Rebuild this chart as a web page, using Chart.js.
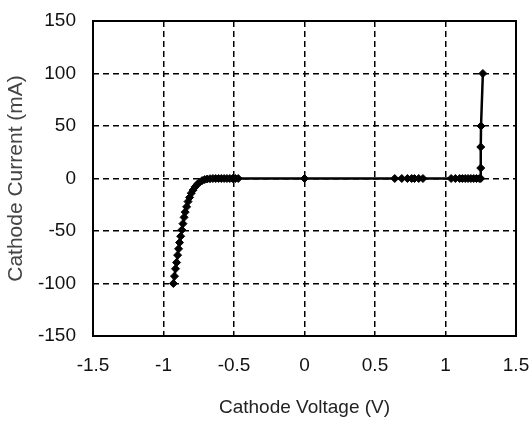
<!DOCTYPE html>
<html>
<head>
<meta charset="utf-8">
<script src="https://cdn.jsdelivr.net/npm/chart.js@4/dist/chart.umd.min.js"></script>
<style>
  html, body { margin: 0; padding: 0; background: #fff; }
  #wrap { width: 532px; height: 421px; }
</style>
</head>
<body>
<div id="wrap"><canvas id="myChart" width="532" height="421"></canvas></div>
<script>
// cathode voltage (V) and current (mA)
const voltage = [-0.93, -0.922, -0.915, -0.907, -0.9, -0.893, -0.886, -0.878, -0.87, -0.862,
    -0.854, -0.846, -0.836, -0.826, -0.815, -0.803, -0.79, -0.776, -0.76, -0.744,
    -0.726, -0.708, -0.69, -0.67, -0.65, -0.63, -0.61, -0.59, -0.57, -0.55,
    -0.53, -0.51, -0.49, -0.47, 0, 0.64, 0.69, 0.73, 0.76, 0.78,
    0.81, 0.84, 1.04, 1.07, 1.1, 1.12, 1.14, 1.16, 1.18, 1.2,
    1.22, 1.24, 1.25, 1.25, 1.25, 1.252, 1.265];
const current = [-100, -93, -86, -80, -73, -67, -61, -55, -49, -43,
    -37, -32, -27, -22, -18, -14, -11, -8, -5.5, -3.5,
    -2, -1, -0.5, -0.2, 0, 0, 0, 0, 0, 0,
    0, 0, 0, 0, 0, 0, 0, 0, 0, 0,
    0, 0, 0, 0, 0, 0, 0, 0, 0, 0,
    0, 0, 0, 10, 30, 50, 100];
const xTicks = [-1.5, -1, -0.5, 0, 0.5, 1, 1.5];
const yTicks = [-150, -100, -50, 0, 50, 100, 150];

const points = voltage.map((v, i) => ({ x: v, y: current[i] }));

const frame = {
    id: 'frame',
    afterDraw(chart) {
        const { ctx, chartArea: a } = chart;
        ctx.save();
        ctx.strokeStyle = '#000';
        ctx.lineWidth = 2;
        ctx.strokeRect(a.left, a.top, a.right - a.left, a.bottom - a.top);
        ctx.restore();
    }
};

const fontTick = { family: 'Liberation Sans, Arial, sans-serif', size: 19 };

const ctx = document.getElementById('myChart').getContext('2d');
const myChart = new Chart(ctx, {
    type: 'scatter',
    data: {
        datasets: [{
            data: points,
            showLine: true,
            borderColor: '#000',
            borderWidth: 2.5,
            backgroundColor: '#000',
            pointStyle: 'rectRot',
            pointRadius: 4,
            pointBorderWidth: 1
        }]
    },
    options: {
        responsive: false,
        animation: false,
        layout: { padding: { top: 21, right: 16, left: 0, bottom: 0 } },
        plugins: { legend: { display: false }, tooltip: { enabled: false } },
        scales: {
            x: {
                type: 'linear',
                min: -1.5, max: 1.5,
                afterBuildTicks: (s) => { s.ticks = xTicks.map(v => ({ value: v })); },
                afterFit: (s) => { s.height = 85; s.paddingLeft = 0; s.paddingRight = 0; },
                grid: { color: '#000', lineWidth: 1.5, drawTicks: false },
                border: { display: false, dash: [6, 4] },
                ticks: { color: '#111', font: fontTick, padding: 18, maxRotation: 0, callback: (v) => String(v) },
                title: { display: true, text: 'Cathode Voltage (V)', color: '#222', font: fontTick, padding: { top: 0, bottom: 2 } }
            },
            y: {
                type: 'linear',
                min: -150, max: 150,
                afterBuildTicks: (s) => { s.ticks = yTicks.map(v => ({ value: v })); },
                afterFit: (s) => { s.width = 93; s.paddingTop = 0; s.paddingBottom = 0; },
                grid: { color: '#000', lineWidth: 1.5, drawTicks: false },
                border: { display: false, dash: [6, 4] },
                ticks: { color: '#111', font: fontTick, padding: 17, callback: (v) => String(v) },
                title: { display: true, text: 'Cathode Current (mA)', color: '#444', font: { family: 'Liberation Sans, Arial, sans-serif', size: 21 }, padding: { top: 4, bottom: 0 } }
            }
        }
    },
    plugins: [frame]
});
</script>
</body>
</html>
